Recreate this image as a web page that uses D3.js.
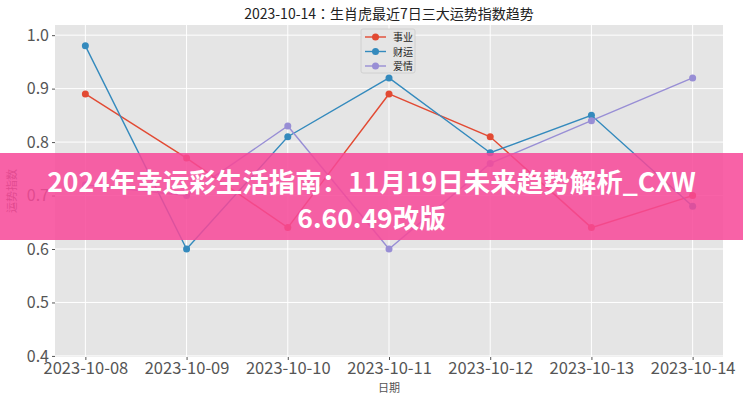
<!DOCTYPE html>
<html>
<head>
<meta charset="utf-8">
<script src="https://cdn.jsdelivr.net/npm/d3@7"></script>
<style>
  body { margin: 0; background: #fff; }
  svg { display: block; font-family: "Noto Sans CJK JP", "Noto Sans CJK SC", sans-serif; }
  .tick text { fill: #555; font-family: "Noto Sans CJK JP", sans-serif; }
</style>
</head>
<body>
<div id="chart"></div>
<script>
var dates = ["2023-10-08", "2023-10-09", "2023-10-10", "2023-10-11", "2023-10-12", "2023-10-13", "2023-10-14"];
var career = [0.89, 0.77, 0.64, 0.89, 0.81, 0.64, 0.70];
var wealth = [0.98, 0.60, 0.81, 0.92, 0.78, 0.85, 0.68];
var love = [0.72, 0.70, 0.83, 0.60, 0.76, 0.84, 0.92];
var seriesNames = ["事业", "财运", "爱情"];
var yTicks = [0.4, 0.5, 0.6, 0.7, 0.8, 0.9, 1.0];

var width = 743;
var height = 400;
var plotLeft = 55, plotRight = 723, plotTop = 25, plotBottom = 357;
var colors = ["#E24A33", "#348ABD", "#988ED5"];

var svg = d3.select("#chart").append("svg")
	.attr("width", width)
	.attr("height", height);

var x = d3.scaleLinear().domain([-0.3, 6.3]).range([plotLeft, plotRight]);
var y = d3.scaleLinear().domain([0.398, 1.019]).range([plotBottom, plotTop]);

// plot background
svg.append("rect")
	.attr("x", plotLeft).attr("y", plotTop)
	.attr("width", plotRight - plotLeft).attr("height", plotBottom - plotTop)
	.attr("fill", "#E5E5E5");

// grid
svg.append("g").selectAll("line").data(yTicks).enter().append("line")
	.attr("x1", plotLeft).attr("x2", plotRight)
	.attr("y1", function(d){ return y(d); }).attr("y2", function(d){ return y(d); })
	.attr("stroke", "#fff").attr("stroke-width", 1);
svg.append("g").selectAll("line").data(dates).enter().append("line")
	.attr("y1", plotTop).attr("y2", plotBottom)
	.attr("x1", function(d, i){ return x(i); }).attr("x2", function(d, i){ return x(i); })
	.attr("stroke", "#fff").attr("stroke-width", 1);

// axes
var yAxis = d3.axisLeft(y).tickValues(yTicks).tickSize(3).tickPadding(3)
	.tickFormat(function(d){ return d3.format(".1f")(d); });
var gy = svg.append("g").attr("transform", "translate(" + plotLeft + ",0)").call(yAxis);
gy.attr("font-family", null);
gy.select(".domain").remove();
gy.selectAll(".tick line").attr("stroke", "#555");
gy.selectAll("text").style("font-size", "16px");

var xAxis = d3.axisBottom(x).tickValues(d3.range(dates.length)).tickSize(3).tickPadding(2)
	.tickFormat(function(i){ return dates[i]; });
var gx = svg.append("g").attr("transform", "translate(0," + plotBottom + ")").call(xAxis);
gx.attr("font-family", null);
gx.select(".domain").remove();
gx.selectAll(".tick line").attr("stroke", "#555");
gx.selectAll("text").style("font-size", "16.5px");

// lines
var line = d3.line()
	.x(function(d, i){ return x(i); })
	.y(function(d){ return y(d); });

[career, wealth, love].forEach(function(data, k){
	svg.append("path")
		.attr("d", line(data))
		.attr("fill", "none")
		.attr("stroke", colors[k])
		.attr("stroke-width", 1.4);
	svg.append("g").selectAll("circle").data(data).enter().append("circle")
		.attr("cx", function(d, i){ return x(i); })
		.attr("cy", function(d){ return y(d); })
		.attr("r", 3.5)
		.attr("fill", colors[k]);
});

// title
svg.append("text")
	.attr("x", (plotLeft + plotRight) / 2).attr("y", 19)
	.attr("text-anchor", "middle")
	.style("font-size", "14px").style("fill", "#222")
	.text("2023-10-14：生肖虎最近7日三大运势指数趋势");

// axis labels
svg.append("text")
	.attr("x", (plotLeft + plotRight) / 2).attr("y", 392)
	.attr("text-anchor", "middle")
	.style("font-size", "11px").style("fill", "#555")
	.text("日期");
svg.append("text")
	.attr("transform", "translate(16," + ((plotTop + plotBottom) / 2) + ") rotate(-90)")
	.attr("text-anchor", "middle")
	.style("font-size", "11px").style("fill", "#555")
	.text("运势指数");

// legend
var legend = svg.append("g").attr("transform", "translate(361,29)");
legend.append("rect")
	.attr("width", 54).attr("height", 44)
	.attr("fill", "#E5E5E5").attr("stroke", "#ccc").attr("stroke-width", 0.8).attr("rx", 2);
seriesNames.forEach(function(name, k){
	var ly = 8 + k * 14.5;
	legend.append("line")
		.attr("x1", 4).attr("x2", 25).attr("y1", ly).attr("y2", ly)
		.attr("stroke", colors[k]).attr("stroke-width", 1.4);
	legend.append("circle").attr("cx", 14.5).attr("cy", ly).attr("r", 3.5).attr("fill", colors[k]);
	legend.append("text").attr("x", 32).attr("y", ly + 4)
		.style("font-size", "10px").style("fill", "#222").text(name);
});

// banner overlay
svg.append("rect")
	.attr("x", 0).attr("y", 153).attr("width", width).attr("height", 87)
	.attr("fill", "rgb(247,72,152)").attr("opacity", 0.86);
var banner = svg.append("text")
	.attr("text-anchor", "middle")
	.style("font-family", "'Noto Sans CJK SC', sans-serif")
	.style("font-weight", "bold").style("font-size", "26.5px").style("fill", "#fff");
banner.append("tspan").attr("x", width / 2).attr("y", 192).text("2024年幸运彩生活指南：11月19日未来趋势解析_CXW");
banner.append("tspan").attr("x", width / 2).attr("y", 228).text("6.60.49改版");
</script>
</body>
</html>
